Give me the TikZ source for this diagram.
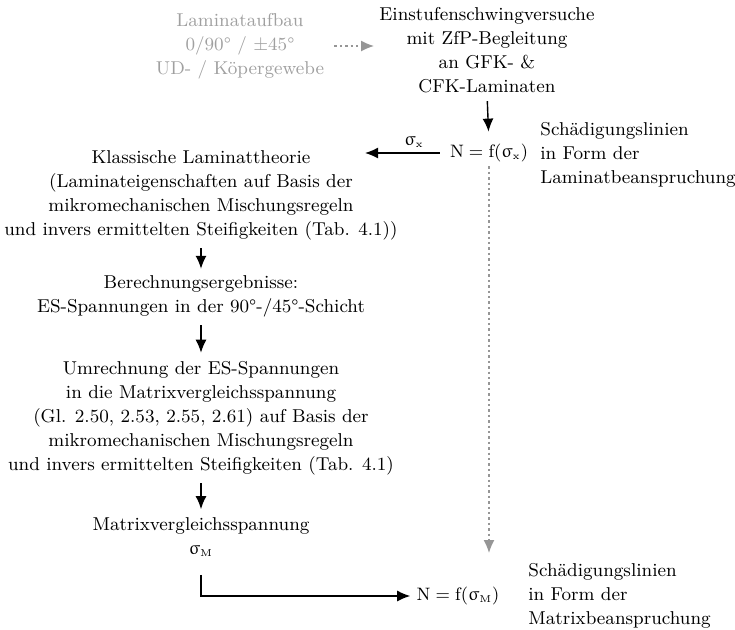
\documentclass[tikz,border=0pt]{standalone}
\usepackage{upgreek}
\usetikzlibrary{arrows.meta}
\definecolor{lgray}{RGB}{160,160,160}
\definecolor{dgray}{RGB}{150,150,150}
\tikzset{
  txt/.style={align=center, inner sep=0pt},
  ltxt/.style={align=left, inner sep=0pt, anchor=west},
  arr/.style={-{Latex[length=6.5pt,width=5.5pt]}, line width=0.7pt},
  garr/.style={-{Latex[length=6.5pt,width=5.5pt]}, line width=0.7pt, dgray},
  dots/.style={dash pattern=on 1.2pt off 1.5pt},
}
\begin{document}
\begin{tikzpicture}[x=0.5pt,y=-0.5pt, font=\fontsize{9.3}{12}\selectfont]
\useasboundingbox (0,0) rectangle (735,629);
% nodes
\node[txt, text=lgray] (lam) at (240,46) {Laminataufbau\\0/90° / ±45°\\UD- / Köpergewebe};
\node[txt] (ein) at (487,50) {Einstufenschwingversuche\\mit ZfP-Begleitung\\an GFK- \&\\CFK-Laminaten};
\node[txt] (nx) at (489,153) {$\mathrm{N}=\mathrm{f}(\upsigma_{\scriptscriptstyle\mathrm{x}})$};
\node[ltxt] (sl1) at (540,155) {Schädigungslinien\\in Form der\\Laminatbeanspruchung};
\node[txt] (kla) at (201,195) {Klassische Laminattheorie\\(Laminateigenschaften auf Basis der\\mikromechanischen Mischungsregeln\\und invers ermittelten Steifigkeiten (Tab. 4.1))};
\node[txt] (ber) at (201,296) {Berechnungsergebnisse:\\ES-Spannungen in der 90°-/45°-Schicht};
\node[txt] (umr) at (201,418) {Umrechnung der ES-Spannungen\\in die Matrixvergleichsspannung\\(Gl. 2.50, 2.53, 2.55, 2.61) auf Basis der\\mikromechanischen Mischungsregeln\\und invers ermittelten Steifigkeiten (Tab. 4.1)};
\node[txt] (mat) at (201,537) {Matrixvergleichsspannung\\$\upsigma_{\scriptscriptstyle\mathrm{M}}$};
\node[txt] (nm) at (458,596) {$\mathrm{N}=\mathrm{f}(\upsigma_{\scriptscriptstyle\mathrm{M}})$};
\node[ltxt] (sl2) at (528,596) {Schädigungslinien\\in Form der\\Matrixbeanspruchung};
\coordinate (sxend) at (365,153);
\coordinate (gend) at (489,553);
% connectors
\draw[garr, dots, shorten <=5pt, shorten >=2.5pt] (lam.east) -- (lam.east -| ein.west);
\draw[arr, shorten <=4pt, shorten >=6pt] (ein.south) -- (nx.north);
\draw[arr, shorten <=5pt] (nx.west) -- node[above=-1pt, pos=0.42] {$\upsigma_{\scriptscriptstyle\mathrm{x}}$} (sxend);
\draw[arr, shorten <=4pt, shorten >=3pt] (kla.south) -- (ber.north);
\draw[arr, shorten <=4pt, shorten >=4pt] (ber.south) -- (umr.north);
\draw[arr, shorten <=4pt, shorten >=4pt] (umr.south) -- (mat.north);
\draw[arr, shorten <=9pt, shorten >=3pt] (mat.south) |- (nm.west);
\draw[garr, dots, shorten <=2pt] (nx.south) -- (gend);
\end{tikzpicture}
\end{document}
